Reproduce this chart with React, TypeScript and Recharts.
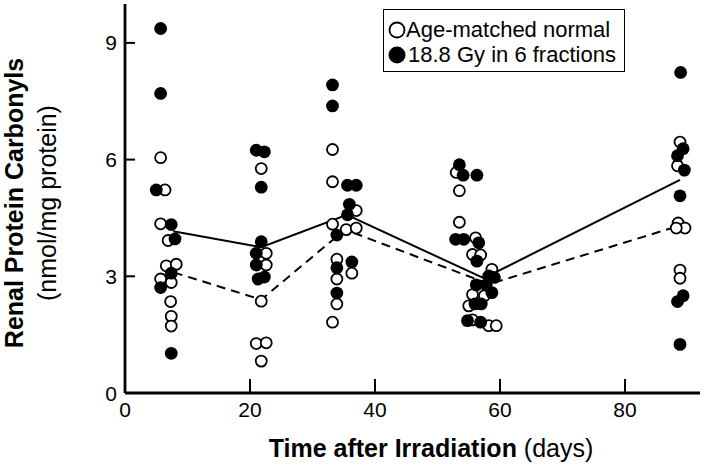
import React from 'react'
import {
  ComposedChart,
  Line,
  Scatter,
  XAxis,
  YAxis,
  Label,
  Legend
} from 'recharts'

// age-matched normal (open circles)
const normalDays = [
  5.7, 6.4, 5.7, 6.9, 6.6, 8.2, 5.7, 7.4, 7.3, 7.4, 7.4,
  21.8, 22.6, 22.6, 21.8, 21.0, 22.6, 21.8,
  33.2, 33.2, 37.0, 33.2, 35.4, 37.0, 33.9, 33.9, 33.9, 33.2, 36.3,
  53.0, 53.5, 53.5, 56.1, 55.6, 56.9, 58.7, 55.6, 57.5, 55.0, 55.6, 58.2, 59.4,
  88.8, 88.4, 88.5, 89.6, 88.2, 88.8, 88.8
]
const normalValues = [
  6.05, 5.22, 4.35, 3.92, 3.27, 3.31, 2.93, 2.84, 2.35, 1.97, 1.72,
  5.77, 3.59, 3.29, 2.36, 1.27, 1.29, 0.82,
  6.26, 5.43, 4.69, 4.34, 4.2, 4.24, 3.44, 2.93, 2.29, 1.82, 3.08,
  5.67, 5.2, 4.39, 3.99, 3.56, 3.55, 3.18, 2.53, 2.5, 2.24, 1.88, 1.73, 1.73,
  6.45, 5.84, 4.37, 4.24, 4.24, 3.16, 2.95
]

// 18.8 Gy in 6 fractions (filled circles)
const irradDays = [
  5.7, 5.7, 5.0, 7.4, 8.0, 7.4, 5.7, 7.4,
  21.0, 22.3, 21.8, 21.8, 21.0, 21.0, 21.3, 22.3,
  33.2, 33.2, 35.6, 37.0, 35.9, 35.6, 33.9, 33.9, 33.9, 36.3,
  53.5, 54.1, 56.3, 52.9, 54.2, 56.6, 56.3, 58.2, 59.1, 57.8, 58.7, 56.2, 57.0, 56.0, 54.8, 56.9,
  88.9, 89.3, 88.4, 89.5, 88.8, 89.3, 88.4, 88.8
]
const irradValues = [
  9.37, 7.7, 5.22, 4.33, 3.96, 3.08, 2.71, 1.02,
  6.24, 6.2, 5.29, 3.89, 3.59, 3.29, 2.93, 2.98,
  7.92, 7.38, 5.34, 5.34, 4.85, 4.58, 4.06, 3.22, 2.57, 3.37,
  5.87, 5.6, 5.6, 3.95, 3.95, 3.86, 3.39, 3.01, 2.97, 2.78, 2.58, 2.78, 2.29, 2.29, 1.86, 1.82,
  8.24, 6.28, 6.1, 5.73, 5.07, 2.5, 2.35, 1.25
]

// group means
const irradMeanDays = [7.7, 21.8, 35.5, 57.4, 88.8]
const irradMeans = [4.16, 3.75, 4.58, 2.95, 5.48]
const normalMeanDays = [7.8, 21.8, 35.2, 58.3, 88.3]
const normalMeans = [3.1, 2.4, 4.2, 2.8, 4.28]

const xTicks = [0, 20, 40, 60, 80]
const yTicks = [0, 3, 6, 9]

const zip = (xs: number[], ys: number[]) => xs.map((x, i) => ({ x, y: ys[i] }))

const normalPts = zip(normalDays, normalValues)
const irradPts = zip(irradDays, irradValues)
const irradMeanPts = zip(irradMeanDays, irradMeans)
const normalMeanPts = zip(normalMeanDays, normalMeans)

const font = '"Liberation Sans", Arial, Helvetica, sans-serif'

const OpenDot = (p: any) => (
  <circle cx={p.cx} cy={p.cy} r={5.5} fill="#fff" stroke="#000" strokeWidth={1.8} />
)
const FilledDot = (p: any) => <circle cx={p.cx} cy={p.cy} r={6.4} fill="#000" />

const YTick = (p: any) => (
  <g>
    <line x1={p.x} y1={p.y} x2={p.x + 10} y2={p.y} stroke="#000" strokeWidth={2} />
    <text x={p.x - 8} y={p.y + 7.5} textAnchor="end" fontSize={21} fontFamily={font} fill="#000">
      {p.payload.value}
    </text>
  </g>
)

const XTick = (p: any) => (
  <g>
    {p.payload.value !== 0 && (
      <line x1={p.x} y1={p.y} x2={p.x} y2={p.y - 14} stroke="#000" strokeWidth={2} />
    )}
    <text x={p.x} y={p.y + 24} textAnchor="middle" fontSize={21} fontFamily={font} fill="#000">
      {p.payload.value}
    </text>
  </g>
)

const XTitle = () => (
  <text x={431} y={457} textAnchor="middle" fontSize={25} fontFamily={font} fill="#000">
    <tspan fontWeight="bold">Time after Irradiation</tspan>
    <tspan> (days)</tspan>
  </text>
)

const YTitle = () => (
  <g>
    <text
      x={23}
      y={203}
      transform="rotate(-90 23 203)"
      textAnchor="middle"
      fontSize={25}
      fontWeight="bold"
      fontFamily={font}
      fill="#000"
    >
      Renal Protein Carbonyls
    </text>
    <text
      x={56}
      y={203}
      transform="rotate(-90 56 203)"
      textAnchor="middle"
      fontSize={25}
      fontFamily={font}
      fill="#000"
    >
      (nmol/mg protein)
    </text>
  </g>
)

const LegendBox = () => (
  <div
    style={{
      border: '1.5px solid #000',
      background: '#fff',
      width: 242,
      height: 63,
      boxSizing: 'border-box',
      fontFamily: font,
      fontSize: 22,
      lineHeight: '25px',
      padding: '7px 0 0 4px',
      color: '#000'
    }}
  >
    <div style={{ display: 'flex', alignItems: 'center', whiteSpace: 'nowrap' }}>
      <svg width={18} height={18}>
        <circle cx={9} cy={9} r={7.5} fill="#fff" stroke="#000" strokeWidth={1.8} />
      </svg>
      <span>Age-matched normal</span>
    </div>
    <div style={{ display: 'flex', alignItems: 'center', whiteSpace: 'nowrap' }}>
      <svg width={20} height={18}>
        <circle cx={9} cy={9} r={8.5} fill="#000" />
      </svg>
      <span>18.8 Gy in 6 fractions</span>
    </div>
  </div>
)

const axisStroke = { stroke: '#000', strokeWidth: 2.8 }

export default function App() {
  return (
    <div style={{ position: 'absolute', left: 0, top: 0, width: 707, height: 475, background: '#fff' }}>
      <ComposedChart
        width={707}
        height={475}
        margin={{ top: 4, right: 7, bottom: 0, left: 0 }}
        style={{ fontFamily: font }}
      >
        <XAxis
          dataKey="x"
          type="number"
          domain={[0, 92]}
          ticks={xTicks}
          height={82}
          tickSize={0}
          tickMargin={0}
          tickLine={false}
          tick={<XTick />}
          axisLine={axisStroke}
          allowDataOverflow
        >
          <Label content={<XTitle />} />
        </XAxis>
        <XAxis
          xAxisId="top"
          orientation="top"
          dataKey="x"
          type="number"
          domain={[0, 92]}
          height={0}
          tick={false}
          tickLine={false}
          axisLine={axisStroke}
        />
        <YAxis
          dataKey="y"
          type="number"
          domain={[0, 10]}
          ticks={yTicks}
          width={125}
          tickSize={0}
          tickMargin={0}
          tickLine={false}
          tick={<YTick />}
          axisLine={axisStroke}
          allowDataOverflow
        >
          <Label content={<YTitle />} />
        </YAxis>
        <YAxis
          yAxisId="right"
          orientation="right"
          dataKey="y"
          type="number"
          domain={[0, 10]}
          width={0}
          tick={false}
          tickLine={false}
          axisLine={axisStroke}
        />
        <Legend
          layout="horizontal"
          verticalAlign="middle"
          align="center"
          wrapperStyle={{ top: 9, left: 383, width: 242 }}
          content={<LegendBox />}
        />
        <Line
          data={irradMeanPts}
          dataKey="y"
          stroke="#000"
          strokeWidth={2}
          dot={false}
          activeDot={false}
          isAnimationActive={false}
        />
        <Line
          data={normalMeanPts}
          dataKey="y"
          stroke="#000"
          strokeWidth={2}
          strokeDasharray="9 6"
          dot={false}
          activeDot={false}
          isAnimationActive={false}
        />
        <Scatter data={normalPts} dataKey="y" shape={<OpenDot />} isAnimationActive={false} />
        <Scatter data={irradPts} dataKey="y" shape={<FilledDot />} isAnimationActive={false} />
      </ComposedChart>
    </div>
  )
}
